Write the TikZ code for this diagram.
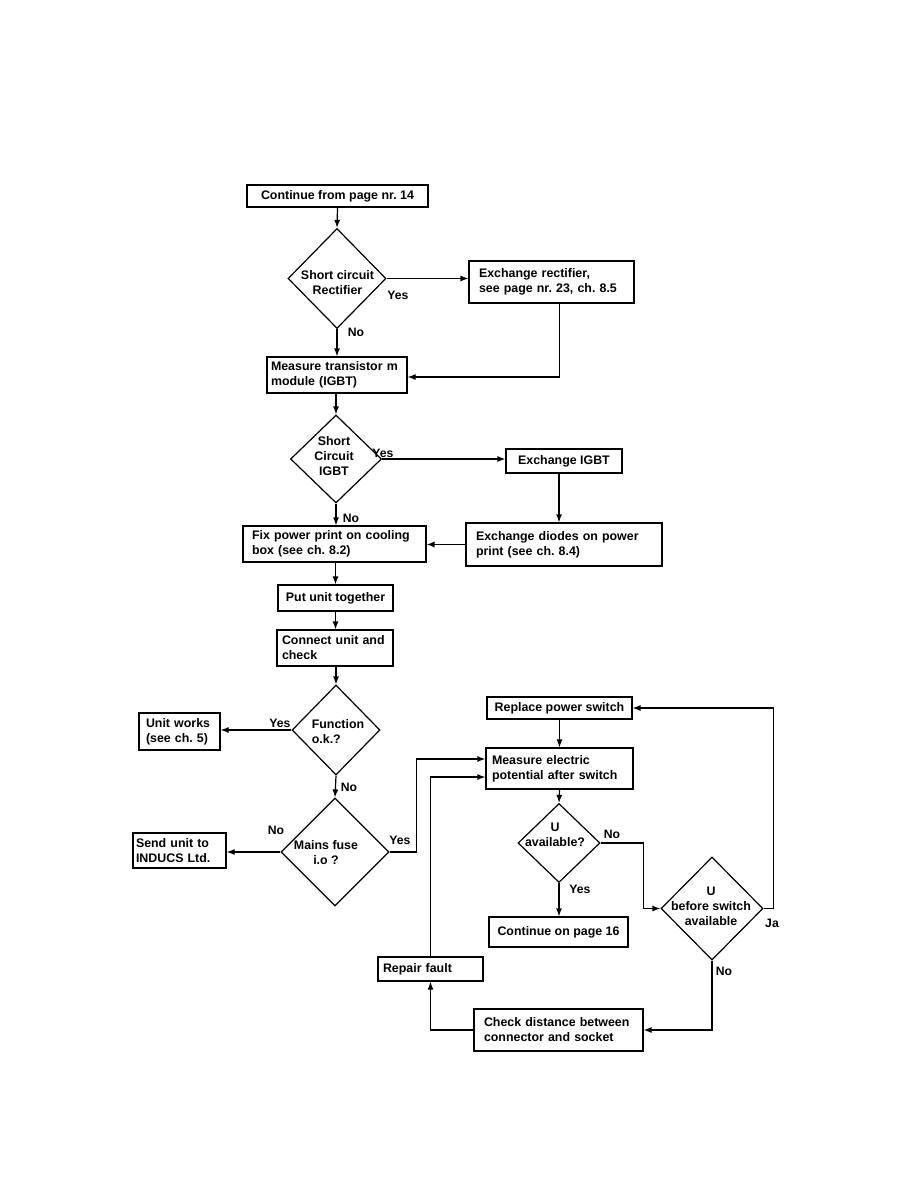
\documentclass[tikz,border=0pt]{standalone}
\usepackage{fontspec}
\setmainfont{Liberation Sans}
\usetikzlibrary{shapes.geometric,arrows.meta}
\frenchspacing
\begin{document}
\begin{tikzpicture}[x=1pt,y=-1pt,
  every node/.style={font=\fontsize{12.4}{15}\selectfont\bfseries},
  box/.style={draw, line width=1.2pt, inner sep=0pt},
  lbox/.style={box, align=left},
  cbox/.style={box, align=center},
  dia/.style={draw, diamond, line width=1.2pt, inner sep=0pt, aspect=1},
  dtext/.style={align=center, inner sep=0pt},
  arr/.style={line width=1.2pt, -{Latex[length=8pt,width=6pt]}},
  lab/.style={font=\fontsize{12.2}{14}\selectfont\bfseries, inner sep=0pt}
]
\useasboundingbox (0,0) rectangle (918,1188);

% boxes
\node[cbox, minimum width=181pt, minimum height=22pt] (top) at (337.5,196) {Continue from page nr. 14};
\node[lbox, text width=145pt, inner xsep=10pt, minimum height=42pt] (rect) at (551.5,282) {Exchange rectifier,\\see page nr. 23, ch. 8.5};
\node[lbox, text width=132pt, inner xsep=4pt, minimum height=36pt] (mt) at (337,375) {Measure transistor m\\module (IGBT)};
\node[cbox, minimum width=116pt, minimum height=24pt] (igbt) at (564,461) {Exchange IGBT};
\node[lbox, text width=176pt, inner xsep=10pt, minimum height=43pt] (diodes) at (564,544.5) {Exchange diodes on power\\print (see ch. 8.4)};
\node[lbox, text width=165pt, inner xsep=9pt, minimum height=36pt] (fix) at (334.5,544) {Fix power print on cooling\\box (see ch. 8.2)};
\node[cbox, minimum width=115pt, minimum height=26pt] (put) at (335.5,598) {Put unit together};
\node[lbox, text width=106pt, inner xsep=5pt, minimum height=36pt] (conn) at (335,648) {Connect unit and\\check};
\node[lbox, text width=67pt, inner xsep=7pt, minimum height=37pt] (works) at (179.5,731.5) {Unit works\\(see ch. 5)};
\node[lbox, text width=87pt, inner xsep=3pt, minimum height=35pt] (send) at (179.5,850.5) {Send unit to\\INDUCS Ltd.};
\node[cbox, minimum width=145pt, minimum height=22pt] (repl) at (559.5,708) {Replace power switch};
\node[lbox, text width=135pt, inner xsep=6pt, minimum height=41pt] (meas) at (559.5,768.5) {Measure electric\\potential after switch};
\node[cbox, minimum width=139pt, minimum height=30pt] (cont) at (558.5,932) {Continue on page 16};
\node[lbox, text width=95pt, inner xsep=5pt, minimum height=24pt] (repair) at (430.5,969) {Repair fault};
\node[lbox, text width=149pt, inner xsep=10pt, minimum height=42pt] (check) at (558.5,1030) {Check distance between\\connector and socket};

% diamonds
\node[dia, minimum width=98pt, minimum height=100pt] (d1) at (337,278.5) {};
\node[dtext] (d1t) at (337.5,282.5) {Short circuit\\Rectifier};
\node[dia, minimum width=91pt, minimum height=88pt] (d2) at (336,459) {};
\node[dtext] (d2t) at (334,456) {Short\\Circuit\\IGBT};
\node[dia, minimum width=88pt, minimum height=90pt] (d3) at (336,730) {};
\node[dtext, align=left] (d3t) at (338,732) {Function\\o.k.?};
\node[dia, minimum width=108pt, minimum height=108pt] (d4) at (335,852) {};
\node[dtext] (d4t) at (326,852.5) {Mains fuse\\i.o ?};
\node[dia, minimum width=82pt, minimum height=79pt] (d5) at (559,843) {};
\node[dtext] (d5t) at (555,835) {U\\available?};
\node[dia, minimum width=102pt, minimum height=103pt] (d6) at (712,908.5) {};
\node[dtext] (d6t) at (711,906) {U\\before switch\\available};

% connectors
\draw[arr] (top.south) -- (d1.north);
\draw[arr] (d1.east) -- (d1.east -| rect.west);
\draw[arr] (d1.south) -- (mt.north);
\draw[arr] ([xshift=8pt]rect.south) |- ([yshift=-2pt]mt.east);
\draw[arr] (d2.north |- mt.south) -- (d2.north);
\draw[arr] (d2.east) -- (d2.east -| igbt.west);
\draw[arr] ([xshift=-5pt]igbt.south) -- ([xshift=-5pt]diodes.north);
\draw[arr] (diodes.west) -- (diodes.west -| fix.east);
\draw[arr] (d2.south) -- (d2.south |- fix.north);
\draw[arr] (put.north |- fix.south) -- (put.north);
\draw[arr] (put.south) -- (put.south |- conn.north);
\draw[arr] (d3.north |- conn.south) -- (d3.north);
\draw[arr] (d3.west) -- (d3.west -| works.east);
\draw[arr] (d3.south) -- (d4.north);
\draw[arr] (d4.west) -- (d4.west -| send.east);
\draw[arr] (d4.east) -- ++(27,0) |- ([yshift=9.5pt]meas.west);
\draw[arr] (repl.south) -- (repl.south |- meas.north);
\draw[arr] (meas.south) -- (d5.north);
\draw[arr] (d5.south) -- (d5.south |- cont.north);
\draw[arr] (d5.east) -- ++(43,0) |- (d6.west);
\draw[arr] (d6.east) -- ++(10,0) |- (repl.east);
\draw[arr] (d6.south) |- (check.east);
\draw[arr] (check.west) -| (repair.south);
\draw[arr] (repair.north) |- ([yshift=-8.5pt]meas.west);

% labels
\node[lab] (l1) at (398,295) {Yes};
\node[lab] (l2) at (356,332) {No};
\node[lab] (l3) at (383,453) {Yes};
\node[lab] (l4) at (351,518) {No};
\node[lab] (l5) at (280,723) {Yes};
\node[lab] (l6) at (349,787) {No};
\node[lab] (l7) at (276,830) {No};
\node[lab] (l8) at (400,840) {Yes};
\node[lab] (l9) at (612,834) {No};
\node[lab] (l10) at (580,889) {Yes};
\node[lab] (l11) at (772,923) {Ja};
\node[lab] (l12) at (724,971) {No};
\end{tikzpicture}
\end{document}
